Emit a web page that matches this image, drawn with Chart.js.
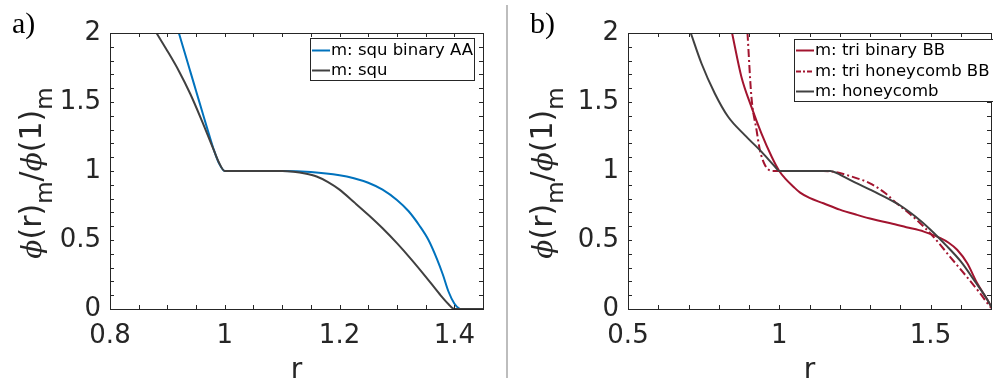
<!DOCTYPE html>
<html>
<head>
<meta charset="utf-8">
<script src="https://cdn.jsdelivr.net/npm/chart.js@4"></script>
<style>
html, body { margin: 0; padding: 0; background: #fff; }
body { width: 993px; height: 383px; position: relative; overflow: hidden; }
.panel { position: absolute; top: 0; height: 383px; }
#pa { left: 0; width: 500px; }
#pb { left: 508px; width: 485px; }
#sep { position: absolute; left: 506px; top: 5px; width: 2px; height: 373px; background: #bdbdbd; }
</style>
</head>
<body>
<div class="panel" id="pa"><canvas id="ca" width="500" height="383"></canvas></div>
<div id="sep"></div>
<div class="panel" id="pb"><canvas id="cb" width="485" height="383"></canvas></div>
<script>
// a) square lattice
const squAAR   = [0.92, 0.93, 0.94, 0.95, 0.96, 0.97, 0.98, 0.99, 1.0, 1.05, 1.1, 1.15, 1.2, 1.225, 1.25, 1.275, 1.3, 1.32, 1.34, 1.355, 1.37, 1.38, 1.39, 1.4, 1.408, 1.412, 1.45];
const squAAPhi = [2.0, 1.86, 1.72, 1.58, 1.44, 1.3, 1.165, 1.055, 1.0, 1.0, 1.0, 0.993, 0.97, 0.948, 0.915, 0.865, 0.79, 0.71, 0.6, 0.5, 0.36, 0.25, 0.125, 0.04, 0.005, 0.0, 0.0];
const squR     = [0.881, 0.9, 0.92, 0.94, 0.96, 0.98, 0.99, 1.0, 1.05, 1.1, 1.12, 1.14, 1.16, 1.18, 1.2, 1.225, 1.25, 1.275, 1.3, 1.325, 1.35, 1.375, 1.39, 1.4, 1.45];
const squPhi   = [2.0, 1.87, 1.725, 1.558, 1.365, 1.16, 1.06, 1.0, 1.0, 1.0, 0.995, 0.982, 0.96, 0.92, 0.865, 0.775, 0.683, 0.585, 0.477, 0.36, 0.235, 0.105, 0.035, 0.0, 0.0];

// b) triangular lattice
const triBinR     = [0.844, 0.875, 0.908, 0.941, 0.975, 1.0, 1.02, 1.047, 1.069, 1.1, 1.146, 1.2, 1.257, 1.31, 1.368, 1.42, 1.478, 1.533, 1.56, 1.588, 1.621, 1.654, 1.688, 1.705];
const triBinPhi   = [2.0, 1.682, 1.465, 1.273, 1.103, 1.0, 0.945, 0.886, 0.843, 0.805, 0.766, 0.72, 0.682, 0.65, 0.622, 0.593, 0.561, 0.513, 0.48, 0.429, 0.333, 0.188, 0.067, 0.0];
const triHoneyR   = [0.895, 0.908, 0.925, 0.936, 0.9526, 0.97, 0.98, 1.146, 1.18, 1.223, 1.26, 1.3, 1.35, 1.388, 1.42, 1.454, 1.509, 1.564, 1.619, 1.663, 1.696, 1.705];
const triHoneyPhi = [2.0, 1.537, 1.296, 1.152, 1.043, 1.003, 1.0, 1.0, 0.995, 0.971, 0.945, 0.911, 0.84, 0.766, 0.71, 0.646, 0.525, 0.38, 0.236, 0.116, 0.02, 0.0];
const honeyR      = [0.7075, 0.743, 0.787, 0.831, 0.886, 0.941, 0.986, 1.0, 1.1, 1.169, 1.19, 1.213, 1.25, 1.3, 1.35, 1.4, 1.45, 1.5, 1.55, 1.6, 1.65, 1.688, 1.705];
const honeyPhi    = [2.0, 1.779, 1.562, 1.393, 1.26, 1.14, 1.031, 1.0, 1.0, 1.0, 0.985, 0.959, 0.918, 0.865, 0.81, 0.75, 0.67, 0.575, 0.465, 0.345, 0.19, 0.067, 0.0];

const yTicks  = [0, 0.5, 1, 1.5, 2];
const xTicksA = [0.8, 1, 1.2, 1.4];
const xTicksB = [0.5, 1, 1.5];

const BLUE = '#0072bd', GRAY = '#404040', RED = '#a2142f', AXIS = '#262626';
const tickFont = {family: 'DejaVu Sans', size: 26};

const line = (label, rs, ps, color, order, dash) => ({
    label, order,
    data: rs.map((r, i) => ({x: r, y: ps[i]})),
    borderColor: color,
    borderWidth: 2,
    borderDash: dash || [],
    pointRadius: 0,
    cubicInterpolationMode: 'monotone',
    fill: false
});

// box round the plot with inward major and minor ticks on all sides
const frame = {
    id: 'frame',
    afterDatasetsDraw(chart, args, o) {
        const {ctx, chartArea: a, scales: {x, y}} = chart;
        ctx.save();
        ctx.strokeStyle = AXIS;
        ctx.lineWidth = 1;
        ctx.beginPath();
        const nx = Math.round((x.max - x.min) / o.xStep);
        for (let i = 0; i <= nx; i++) {
            const px = Math.round(x.getPixelForValue(x.min + i * o.xStep)) + 0.5;
            ctx.moveTo(px, a.bottom); ctx.lineTo(px, a.bottom - 4);
            ctx.moveTo(px, a.top); ctx.lineTo(px, a.top + 4);
        }
        const ny = Math.round((y.max - y.min) / o.yStep);
        for (let i = 0; i <= ny; i++) {
            const py = Math.round(y.getPixelForValue(y.min + i * o.yStep)) + 0.5;
            ctx.moveTo(a.left, py); ctx.lineTo(a.left + 4, py);
            ctx.moveTo(a.right, py); ctx.lineTo(a.right - 4, py);
        }
        ctx.stroke();
        ctx.strokeRect(Math.round(a.left) + 0.5, Math.round(a.top) + 0.5, Math.round(a.width), Math.round(a.height));
        ctx.restore();
    }
};

const legendBox = {
    id: 'legendBox',
    afterDatasetsDraw(chart, args, o) {
        const ctx = chart.ctx;
        ctx.save();
        ctx.fillStyle = '#fff';
        ctx.fillRect(o.x, o.y, o.w, o.h);
        ctx.strokeStyle = AXIS;
        ctx.lineWidth = 1;
        ctx.strokeRect(o.x + 0.5, o.y + 0.5, o.w, o.h);
        ctx.font = '16.5px "DejaVu Sans"';
        ctx.textBaseline = 'middle';
        chart.data.datasets.forEach((d, i) => {
            const cy = Math.round(o.y + o.first + i * o.rowH) + 0.5;
            ctx.strokeStyle = d.borderColor;
            ctx.lineWidth = d.borderWidth;
            ctx.setLineDash(d.borderDash.length ? [5, 2, 2, 2] : []);
            ctx.beginPath();
            ctx.moveTo(o.x + 2, cy);
            ctx.lineTo(o.x + 20, cy);
            ctx.stroke();
            ctx.setLineDash([]);
            ctx.fillStyle = '#000';
            ctx.fillText(d.label, o.x + 21, cy);
        });
        ctx.restore();
    }
};

// panel letter, x title and the rotated y title with subscripts
const titles = {
    id: 'titles',
    afterDraw(chart, args, o) {
        const {ctx, chartArea: a} = chart;
        ctx.save();
        ctx.fillStyle = '#000';
        ctx.font = '30px "Liberation Serif"';
        ctx.textBaseline = 'alphabetic';
        ctx.fillText(o.panel, o.panelX, 33);

        ctx.fillStyle = AXIS;
        ctx.font = '28px "DejaVu Sans"';
        ctx.textAlign = 'center';
        ctx.fillText('r', (a.left + a.right) / 2, 378);

        const fonts = {
            sym: 'italic 28px "DejaVu Serif"',
            main: '30px "DejaVu Sans"',
            sub: '23px "DejaVu Sans"'
        };
        const parts = [['ϕ', 'sym'], ['(r)', 'main'], ['m', 'sub'], ['/', 'main'], ['ϕ', 'sym'], ['(1)', 'main'], ['m', 'sub']];
        ctx.textAlign = 'left';
        let total = 0;
        const widths = parts.map(([t, f]) => { ctx.font = fonts[f]; const w = ctx.measureText(t).width; total += w; return w; });
        ctx.translate(o.yTitleX, 173);
        ctx.rotate(-Math.PI / 2);
        let cx = -total / 2;
        parts.forEach(([t, f], i) => {
            ctx.font = fonts[f];
            ctx.fillText(t, cx, f === 'sub' ? 11 : 0);
            cx += widths[i];
        });
        ctx.restore();
    }
};

function makeChart(id, datasets, xMin, xMax, xTicks, xStep, yWidth, padRight, legend, panel, panelX, yTitleX) {
    return new Chart(document.getElementById(id), {
        type: 'line',
        data: {datasets},
        plugins: [frame, legendBox, titles],
        options: {
            responsive: false,
            animation: false,
            layout: {padding: {top: 33, right: padRight, left: 0, bottom: 0}},
            plugins: {
                legend: {display: false},
                tooltip: {enabled: false},
                frame: {xStep, yStep: 0.1},
                legendBox: legend,
                titles: {panel, panelX, yTitleX}
            },
            scales: {
                x: {
                    type: 'linear',
                    min: xMin, max: xMax,
                    grid: {display: false, drawTicks: false},
                    border: {display: false},
                    afterBuildTicks: s => { s.ticks = xTicks.map(value => ({value})); },
                    afterFit: s => { s.height = 74; },
                    ticks: {
                        font: tickFont, color: AXIS, padding: 12,
                        maxRotation: 0, autoSkip: false,
                        callback: v => String(Math.round(v * 100) / 100)
                    }
                },
                y: {
                    type: 'linear',
                    min: 0, max: 2,
                    grid: {display: false, drawTicks: false},
                    border: {display: false},
                    afterBuildTicks: s => { s.ticks = yTicks.map(value => ({value})); },
                    afterFit: s => { s.width = yWidth; },
                    ticks: {
                        font: tickFont, color: AXIS, padding: 9, autoSkip: false,
                        callback: v => String(v)
                    }
                }
            }
        }
    });
}

makeChart('ca', [
    line('m: squ binary AA', squAAR, squAAPhi, BLUE, 1),
    line('m: squ', squR, squPhi, GRAY, 0)
], 0.8, 1.45, xTicksA, 0.05, 110, 17,
    {x: 310, y: 38, w: 164, h: 42, first: 12, rowH: 20}, 'a)', 12, 41);

makeChart('cb', [
    line('m: tri binary BB', triBinR, triBinPhi, RED, 1),
    line('m: tri honeycomb BB', triHoneyR, triHoneyPhi, RED, 2, [8, 3, 2, 3]),
    line('m: honeycomb', honeyR, honeyPhi, GRAY, 0)
], 0.5, 1.7, xTicksB, 0.1, 120, 2,
    {x: 286, y: 39, w: 210, h: 62, first: 11, rowH: 20.5}, 'b)', 22, 44);
</script>
</body>
</html>
